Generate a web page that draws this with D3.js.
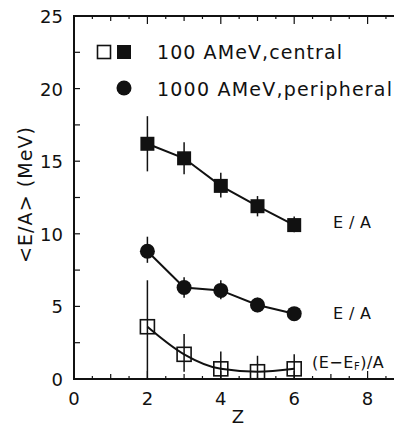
<!DOCTYPE html>
<html>
<head>
<meta charset="utf-8">
<script src="https://cdn.jsdelivr.net/npm/d3@7"></script>
<style>
  body { margin: 0; background: #fff; }
  svg text { font-family: "DejaVu Sans", "Liberation Sans", sans-serif; fill: #111; }
</style>
</head>
<body>
<svg id="chart" width="394" height="427"></svg>
<script>
const W = 394, H = 427;

// data
const Z = [2, 3, 4, 5, 6];
const centralEA = [16.2, 15.2, 13.3, 11.9, 10.6];
const centralErr = [[14.3, 18.1], [14.1, 16.3], [12.5, 14.2], [11.2, 12.6], [10.1, 11.2]];
const peripheralEA = [8.8, 6.3, 6.1, 5.1, 4.5];
const peripheralErr = [[8.0, 9.8], [5.6, 7.0], [5.5, 6.8], [4.6, 5.6], [4.1, 4.9]];
const centralEF = [3.6, 1.7, 0.7, 0.5, 0.7];
const centralEFErr = [[0, 6.8], [0.5, 3.1], [0, 1.9], [0, 1.6], [0, 1.7]];
const xTicks = [0, 2, 4, 6, 8];
const yTicks = [0, 5, 10, 15, 20, 25];

const svg = d3.select("#chart");

const x = d3.scaleLinear().domain([0, 8.8]).range([74, 74 + 8.8 * 36.7]);
const y = d3.scaleLinear().domain([0, 25]).range([379, 16]);

// frame
svg.append("path")
    .attr("d", `M${W + 5},${y(25)}H${x(0)}V${y(0)}H${W + 5}`)
    .attr("fill", "none")
    .attr("stroke", "#111")
    .attr("stroke-width", 2);

// x ticks, bottom and top, pointing inward
const xMinor = d3.range(0, 8.76, 0.5);
function xTickLen(v) {
    if (Math.abs(v % 2) < 1e-6) return 8;
    if (Math.abs(v % 1) < 1e-6) return 5;
    return 3;
}
svg.selectAll(".xtick-b")
    .data(xMinor)
    .enter().append("line")
    .attr("x1", d => x(d)).attr("x2", d => x(d))
    .attr("y1", y(0)).attr("y2", d => y(0) - xTickLen(d))
    .attr("stroke", "#111").attr("stroke-width", 1.2);
svg.selectAll(".xtick-t")
    .data(xMinor)
    .enter().append("line")
    .attr("x1", d => x(d)).attr("x2", d => x(d))
    .attr("y1", y(25)).attr("y2", d => y(25) + xTickLen(d))
    .attr("stroke", "#111").attr("stroke-width", 1.2);

svg.selectAll(".xlabel")
    .data(xTicks)
    .enter().append("text")
    .attr("x", d => x(d))
    .attr("y", y(0) + 26)
    .attr("text-anchor", "middle")
    .attr("font-size", 18)
    .text(d => d);

// y ticks
svg.selectAll(".ytick")
    .data(d3.range(0, 25.1, 2.5))
    .enter().append("line")
    .attr("x1", x(0)).attr("x2", x(0) + 6)
    .attr("y1", d => y(d)).attr("y2", d => y(d))
    .attr("stroke", "#111").attr("stroke-width", 1.2);

svg.selectAll(".ylabel")
    .data(yTicks)
    .enter().append("text")
    .attr("x", x(0) - 11)
    .attr("y", d => y(d) + 7)
    .attr("text-anchor", "end")
    .attr("font-size", 18)
    .text(d => d);

// axis titles
svg.append("text")
    .attr("transform", "translate(32, 195) rotate(-90)")
    .attr("text-anchor", "middle")
    .attr("font-size", 19)
    .attr("textLength", 136)
    .attr("lengthAdjust", "spacing")
    .text("<E/A> (MeV)");

svg.append("text")
    .attr("x", 238)
    .attr("y", 423)
    .attr("text-anchor", "middle")
    .attr("font-size", 18)
    .text("Z");

// series helpers
function errorBars(vals, errs) {
    svg.append("g").selectAll("line")
        .data(Z)
        .enter().append("line")
        .attr("x1", d => x(d)).attr("x2", d => x(d))
        .attr("y1", (d, i) => y(errs[i][0]))
        .attr("y2", (d, i) => y(errs[i][1]))
        .attr("stroke", "#111").attr("stroke-width", 1.5);
}

const straight = d3.line().x((d, i) => x(Z[i])).y(d => y(d));
const smooth = d3.line().x((d, i) => x(Z[i])).y(d => y(d)).curve(d3.curveMonotoneX);

// 100 AMeV central, E/A
errorBars(centralEA, centralErr);
svg.append("path").attr("d", straight(centralEA))
    .attr("fill", "none").attr("stroke", "#111").attr("stroke-width", 2);
svg.append("g").selectAll("rect")
    .data(centralEA)
    .enter().append("rect")
    .attr("x", (d, i) => x(Z[i]) - 7).attr("y", d => y(d) - 7)
    .attr("width", 14).attr("height", 14)
    .attr("fill", "#111");

// 1000 AMeV peripheral, E/A
errorBars(peripheralEA, peripheralErr);
svg.append("path").attr("d", straight(peripheralEA))
    .attr("fill", "none").attr("stroke", "#111").attr("stroke-width", 2);
svg.append("g").selectAll("circle")
    .data(peripheralEA)
    .enter().append("circle")
    .attr("cx", (d, i) => x(Z[i])).attr("cy", d => y(d))
    .attr("r", 7.5)
    .attr("fill", "#111");

// 100 AMeV central, (E-E_F)/A
errorBars(centralEF, centralEFErr);
svg.append("path").attr("d", smooth(centralEF))
    .attr("fill", "none").attr("stroke", "#111").attr("stroke-width", 2);
svg.append("g").selectAll("rect")
    .data(centralEF)
    .enter().append("rect")
    .attr("x", (d, i) => x(Z[i]) - 7).attr("y", d => y(d) - 7)
    .attr("width", 14).attr("height", 14)
    .attr("fill", "none").attr("stroke", "#111").attr("stroke-width", 1.6);

// curve labels
svg.append("text").attr("x", 333).attr("y", 228).attr("font-size", 16)
    .attr("textLength", 38).attr("lengthAdjust", "spacing").text("E/A");
svg.append("text").attr("x", 333).attr("y", 319).attr("font-size", 16)
    .attr("textLength", 38).attr("lengthAdjust", "spacing").text("E/A");
const ef = svg.append("text").attr("x", 312).attr("y", 368).attr("font-size", 16)
    .attr("letter-spacing", 0.5);
ef.append("tspan").text("(E\u2212E");
ef.append("tspan").attr("font-size", 10).attr("dy", 2).text("F");
ef.append("tspan").attr("dy", -2).text(")/A");

// legend
svg.append("rect").attr("x", 97.5).attr("y", 45.5).attr("width", 13).attr("height", 13)
    .attr("fill", "none").attr("stroke", "#111").attr("stroke-width", 1.6);
svg.append("rect").attr("x", 117).attr("y", 45).attr("width", 14).attr("height", 14)
    .attr("fill", "#111");
svg.append("circle").attr("cx", 124).attr("cy", 88).attr("r", 7.5).attr("fill", "#111");
svg.append("text").attr("x", 157).attr("y", 59).attr("font-size", 19)
    .attr("textLength", 185).attr("lengthAdjust", "spacing").text("100 AMeV,central");
svg.append("text").attr("x", 157).attr("y", 96).attr("font-size", 19)
    .attr("textLength", 235).attr("lengthAdjust", "spacing").text("1000 AMeV,peripheral");
</script>
</body>
</html>
